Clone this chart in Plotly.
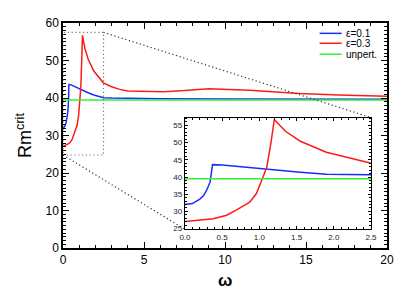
import plotly.graph_objects as go

# epsilon = 0.1 (blue)
blue_x = [0.0, 0.1, 0.2, 0.25, 0.29, 0.32, 0.336, 0.35, 0.36, 0.37, 0.5, 0.75, 1.0, 1.25, 1.55, 1.9, 2.2, 2.46, 2.5,
          3.0, 4.0, 6.0, 10.0, 15.0, 20.0]
blue_y = [32.0, 32.3, 33.6, 34.6, 36.1, 37.6, 38.5, 40.5, 43.3, 43.6, 43.5, 43.0, 42.4, 41.8, 41.4, 40.8, 40.5, 40.2, 40.1,
          40.0, 39.9, 39.8, 39.75, 39.7, 39.65]

# epsilon = 0.3 (red)
red_x = [0.0, 0.2, 0.38, 0.56, 0.7, 0.87, 0.96, 1.03, 1.10, 1.16, 1.20, 1.35, 1.55, 1.90, 2.17, 2.49,
         3.0, 3.5, 4.0, 5.0, 6.2, 7.5, 9.0, 11.5, 14.6, 17.0, 20.0]
red_y = [27.1, 27.5, 27.9, 28.9, 30.5, 32.7, 35.2, 39.0, 42.9, 50.6, 56.7, 53.3, 50.4, 47.2, 45.8, 44.05,
         43.0, 42.3, 41.9, 41.8, 41.7, 42.0, 42.5, 42.1, 41.2, 40.8, 40.5]

# unperturbed (green)
green_x = [0.0, 20.0]
green_y = [39.5, 39.5]

series_names = ["ε=0.1", "ε=0.3", "unpert."]

x_ticks = [0, 5, 10, 15, 20]
y_ticks = [0, 10, 20, 30, 40, 50, 60]
inset_x_ticks = [0.0, 0.5, 1.0, 1.5, 2.0, 2.5]
inset_y_ticks = [25, 30, 35, 40, 45, 50, 55]

C_BLUE = "#1a2cff"
C_RED = "#ff1a1a"
C_GREEN = "#33f233"
COLORS = [C_BLUE, C_RED, C_GREEN]
FONT = "Liberation Sans"

fig = go.Figure()
series = [(blue_x, blue_y), (red_x, red_y), (green_x, green_y)]
for (sx, sy), name, col in zip(series, series_names, COLORS):
    fig.add_trace(go.Scatter(x=sx, y=sy, mode="lines", name=name, showlegend=False,
                             line=dict(color=col, width=1.5)))
for (sx, sy), name, col in zip(series, series_names, COLORS):
    fig.add_trace(go.Scatter(x=sx, y=sy, mode="lines", name=name, showlegend=False,
                             line=dict(color=col, width=1.5), xaxis="x2", yaxis="y2"))

X_RANGE = [0, 20]
Y_RANGE = [0, 60]
IX_RANGE = [0, 2.5]
IY_RANGE = [24.8, 57.3]
INSET_DX = [0.3765, 0.9506]
INSET_DY = [0.083, 0.580]
BOX = [0, 2.5, 24.8, 57.5]

def px(v):
    return (v - X_RANGE[0]) / (X_RANGE[1] - X_RANGE[0])

def py(v):
    return (v - Y_RANGE[0]) / (Y_RANGE[1] - Y_RANGE[0])

dot = dict(color="#333333", width=1.2, dash="1.2px,2.6px")
shapes = [
    dict(type="rect", xref="x", yref="y", x0=BOX[0], x1=BOX[1], y0=BOX[2], y1=BOX[3],
         line=dict(color="#777777", width=1.2, dash="1.2px,2.6px"), layer="above"),
    dict(type="line", xref="paper", yref="paper", x0=px(BOX[1]), y0=py(BOX[3]),
         x1=INSET_DX[1], y1=INSET_DY[1], line=dot),
    dict(type="line", xref="paper", yref="paper", x0=px(BOX[0]), y0=py(BOX[2]),
         x1=INSET_DX[0], y1=INSET_DY[0], line=dot),
]

# manual legend (compact rows like the reference)
annotations = []
LEG_X0, LEG_X1, LEG_TX = 0.792, 0.86, 0.866
LEG_Y = [0.954, 0.910, 0.861]
for name, col, ly in zip(series_names, COLORS, LEG_Y):
    shapes.append(dict(type="line", xref="paper", yref="paper", x0=LEG_X0, x1=LEG_X1,
                       y0=ly, y1=ly, line=dict(color=col, width=1.5)))
    annotations.append(dict(xref="paper", yref="paper", x=LEG_TX, y=ly, text=name,
                            showarrow=False, xanchor="left", yanchor="middle",
                            font=dict(size=10, family=FONT, color="black")))

annotations.append(dict(xref="paper", yref="paper", x=0.5, y=-0.146, text="<b>ω</b>",
                        showarrow=False, xanchor="center", yanchor="middle",
                        font=dict(size=17, family=FONT, color="black")))

axis_common = dict(showgrid=False, zeroline=False, showline=True, linecolor="black",
                   ticks="inside", mirror="allticks", tickcolor="black", automargin=False)

# page body has an 8px margin, so the figure is shrunk by 8px to fill the 407x291 window
fig.update_layout(
    width=399, height=283,
    margin=dict(l=55, r=20, t=15, b=43),
    paper_bgcolor="white", plot_bgcolor="white",
    font=dict(family=FONT, color="black"),
    shapes=shapes,
    annotations=annotations,
    showlegend=False,
    xaxis=dict(range=X_RANGE, tickvals=x_ticks, linewidth=1.5, ticklen=6, tickwidth=1,
               minor=dict(dtick=1, ticklen=3, ticks="inside", tickcolor="black"),
               tickfont=dict(size=12),
               **axis_common),
    yaxis=dict(range=Y_RANGE, tickvals=y_ticks, linewidth=1.5, ticklen=6, tickwidth=1,
               minor=dict(dtick=1, ticklen=3, ticks="inside", tickcolor="black"),
               tickfont=dict(size=12),
               title=dict(text="Rm<sup>crit</sup>", font=dict(size=18), standoff=9),
               **axis_common),
    xaxis2=dict(domain=INSET_DX, anchor="y2", range=IX_RANGE, tickvals=inset_x_ticks,
                tickformat=".1f", linewidth=1.4, ticklen=3,
                minor=dict(dtick=0.1, ticklen=2, ticks="inside", tickcolor="black"),
                tickfont=dict(size=8, color="#222222"), **axis_common),
    yaxis2=dict(domain=INSET_DY, anchor="x2", range=IY_RANGE, tickvals=inset_y_ticks,
                linewidth=1.4, ticklen=3,
                minor=dict(dtick=1, ticklen=2, ticks="inside", tickcolor="black"),
                tickfont=dict(size=8, color="#222222"), **axis_common),
)

fig.write_html("out.html")
